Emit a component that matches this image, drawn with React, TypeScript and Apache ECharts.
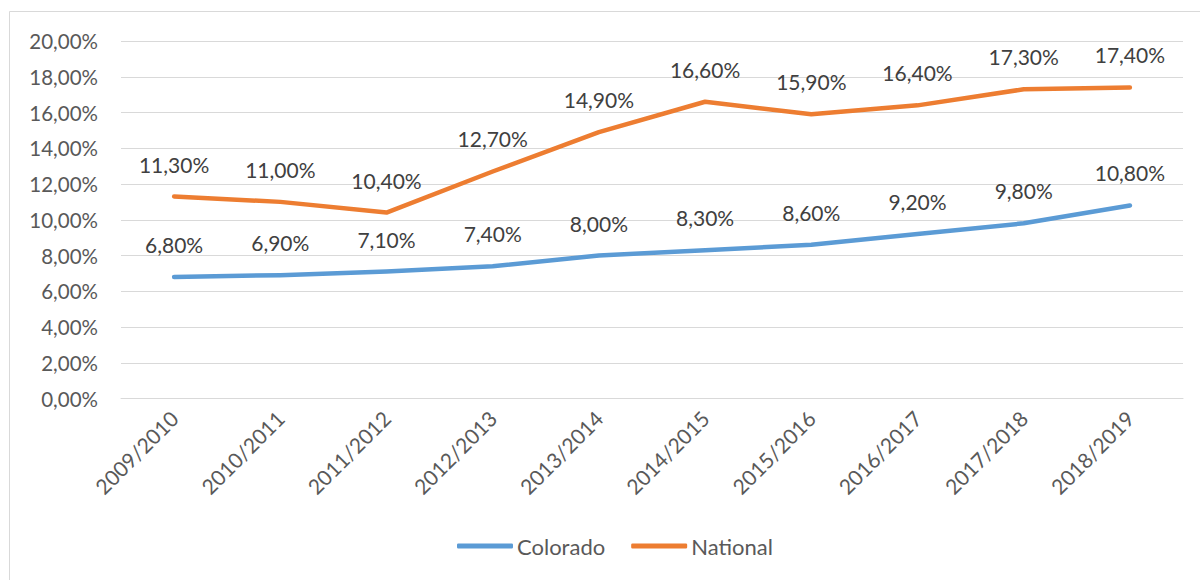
import React, { useEffect, useRef } from "react";
import * as echarts from "echarts";

const categories = ["2009/2010", "2010/2011", "2011/2012", "2012/2013", "2013/2014", "2014/2015", "2015/2016", "2016/2017", "2017/2018", "2018/2019"];
const colorado = [6.8, 6.9, 7.1, 7.4, 8.0, 8.3, 8.6, 9.2, 9.8, 10.8];
const national = [11.3, 11.0, 10.4, 12.7, 14.9, 16.6, 15.9, 16.4, 17.3, 17.4];
const seriesNames = ["Colorado", "National"];

const fmt = (v: number) => v.toFixed(2).replace(".", ",") + "%";
const FONT = "Lato";

export default function App() {
  const ref = useRef<HTMLDivElement>(null);
  useEffect(() => {
    const chart = echarts.init(ref.current!, null, { renderer: "svg" });
    const mk = (name: string, data: number[], color: string) => ({
      name,
      type: "line",
      data,
      showSymbol: true,
      symbol: "circle",
      symbolSize: 0,
      lineStyle: { color, width: 4.5, cap: "round", join: "round" },
      itemStyle: { color },
      label: {
        show: true,
        position: "top",
        distance: 22,
        formatter: (p: any) => fmt(p.value),
        fontSize: 21,
        color: "#404040",
        fontFamily: FONT,
      },
    });
    chart.setOption({
      animation: false,
      textStyle: { fontFamily: FONT },
      graphic: [
        {
          type: "rect",
          shape: { x: 9.5, y: 11.5, width: 1200, height: 600 },
          style: { fill: "none", stroke: "#d9d9d9", lineWidth: 1 },
          silent: true,
        },
      ],
      grid: { left: 121, right: 17, top: 41, bottom: 181.5 },
      legend: {
        bottom: 18,
        left: 452,
        itemWidth: 56,
        itemHeight: 5,
        itemGap: 26,
        icon: "roundRect",
        textStyle: { fontSize: 22, color: "#595959", fontFamily: FONT, padding: [0, 0, 0, -1] },
        data: seriesNames,
      },
      xAxis: {
        type: "category",
        data: categories,
        boundaryGap: true,
        axisLine: { show: true, lineStyle: { color: "#d9d9d9", width: 1 } },
        axisTick: { show: false },
        axisLabel: { rotate: 45, fontSize: 21, color: "#595959", margin: 16, interval: 0, fontFamily: FONT },
      },
      yAxis: {
        type: "value",
        min: 0,
        max: 20,
        interval: 2,
        axisLine: { show: false },
        axisTick: { show: false },
        splitLine: { lineStyle: { color: "#d9d9d9", width: 1 } },
        axisLabel: { formatter: (v: number) => fmt(v), fontSize: 20.5, color: "#595959", margin: 23, fontFamily: FONT },
      },
      series: [mk(seriesNames[0], colorado, "#5B9BD5"), mk(seriesNames[1], national, "#ED7D31")],
    });
    return () => chart.dispose();
  }, []);
  return <div ref={ref} style={{ position: "absolute", left: 0, top: 0, width: 1200, height: 580 }} />;
}
